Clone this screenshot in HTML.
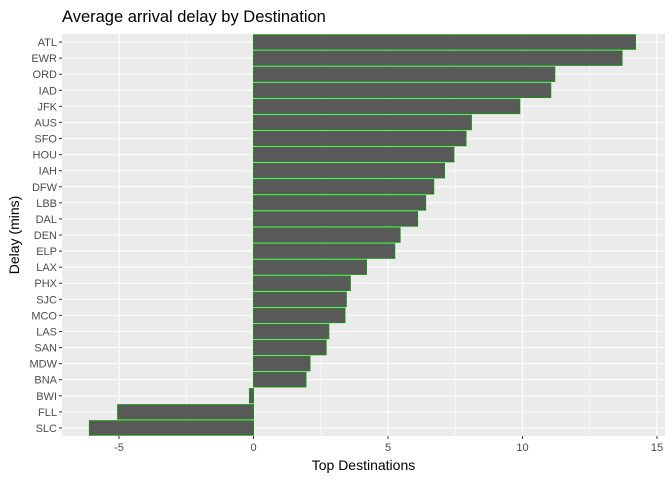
<!DOCTYPE html>
<html><head><meta charset="utf-8"><style>
body{margin:0;background:#fff;font-family:"Liberation Sans",sans-serif}
</style></head><body>
<svg id="c" width="672" height="480" xmlns="http://www.w3.org/2000/svg"></svg>
<script>
const categories=["ATL","EWR","ORD","IAD","JFK","AUS","SFO","HOU","IAH","DFW","LBB","DAL","DEN","ELP","LAX","PHX","SJC","MCO","LAS","SAN","MDW","BNA","BWI","FLL","SLC"];
const delays=[14.2,13.7,11.2,11.05,9.9,8.1,7.9,7.45,7.1,6.7,6.4,6.1,5.45,5.25,4.2,3.6,3.45,3.4,2.8,2.7,2.1,1.95,-0.15,-5.05,-6.1];
const xTicks=[-5,0,5,10,15];
const svg=document.getElementById('c');const NS='http://www.w3.org/2000/svg';
const L=62,R=665,T=34,B=436;
const x=v=>253.5+v*26.9;
const step=(B-T)/categories.length;
const y=i=>T+step*(i+0.5);
function mk(t,a,txt){const e=document.createElementNS(NS,t);for(const k in a)e.setAttribute(k,a[k]);if(txt!==undefined)e.textContent=txt;svg.appendChild(e);return e;}
const p=mk('rect',{x:L,y:T,width:R-L,height:B-T,fill:'#EBEBEB'});


[-7.5,-2.5,2.5,7.5,12.5].forEach(v=>{if(x(v)>L)mk('line',{x1:x(v),x2:x(v),y1:T,y2:B,stroke:'#fff','stroke-width':0.5});});
xTicks.forEach(v=>{mk('line',{x1:x(v),x2:x(v),y1:T,y2:B,stroke:'#fff','stroke-width':1.1});
mk('line',{x1:x(v),x2:x(v),y1:B,y2:B+3,stroke:'#333'});
const t=mk('text',{x:x(v),y:B+15,'text-anchor':'middle','font-size':11,fill:'#4D4D4D'},v);

});
categories.forEach((c,i)=>{mk('line',{x1:L,x2:R,y1:y(i),y2:y(i),stroke:'#fff','stroke-width':1.1});});
categories.forEach((c,i)=>{const v=delays[i];const bh=step*0.9;
const r=mk('rect',{x:Math.min(x(0),x(v)),y:y(i)-bh/2,width:Math.abs(x(v)-x(0)),height:bh,fill:'#595959',stroke:'#1A8C1A','stroke-width':1});


mk('line',{x1:L-3,x2:L,y1:y(i),y2:y(i),stroke:'#333'});
const t=mk('text',{x:L-5,y:y(i)+4,'text-anchor':'end','font-size':11,fill:'#4D4D4D'},c);

});
const ti=mk('text',{x:L,y:22,'font-size':16.5,fill:'#000'},'Average arrival delay by Destination');


const xt=mk('text',{x:(L+R)/2,y:470,'text-anchor':'middle','font-size':14,fill:'#000'},'Top Destinations');


const yt=mk('text',{x:0,y:0,'text-anchor':'middle','font-size':14,fill:'#000',transform:'translate(19,'+((T+B)/2)+') rotate(-90)'},'Delay (mins)');


</script>
</body></html>
